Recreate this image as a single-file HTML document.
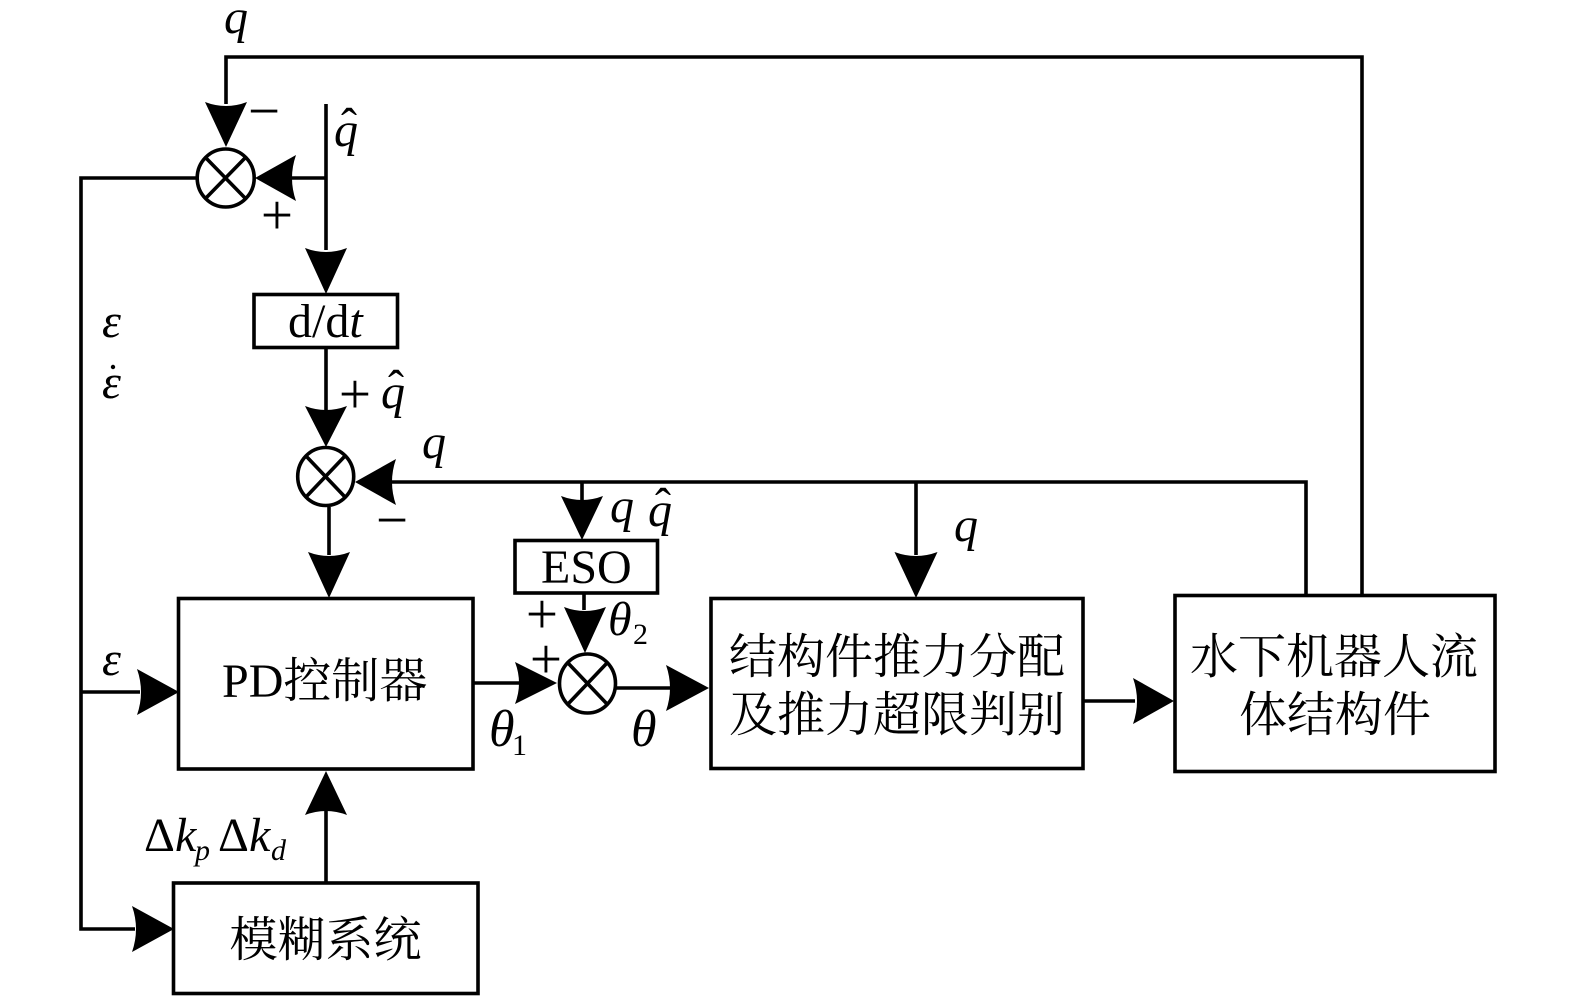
<!DOCTYPE html>
<html><head><meta charset="utf-8">
<style>
html,body{margin:0;padding:0;background:#fff;width:1575px;height:1005px;overflow:hidden}
svg{display:block}
.l{fill:none;stroke:#000;stroke-width:3.6}
.b{fill:#fff;stroke:#000;stroke-width:3.6}
.t{font-family:"Liberation Serif","Noto Serif CJK SC",serif;font-size:48px;fill:#000}
.i{font-family:"Liberation Serif",serif;font-style:italic;font-size:48px;fill:#000}
.th{font-family:"Liberation Serif",serif;font-style:italic;font-size:52px;fill:#000}
.s{font-family:"Liberation Serif",serif;font-style:italic;font-size:30px;fill:#000}
.r{font-family:"Liberation Serif",serif;font-size:48px;fill:#000}
.p{font-family:"Liberation Serif",serif;font-size:57px;fill:#000;text-anchor:middle}
</style></head><body>
<svg width="1575" height="1005" viewBox="0 0 1575 1005" xmlns="http://www.w3.org/2000/svg">
<rect width="1575" height="1005" fill="#fff"/>
<g class="l">
<path d="M226 104V57H1362V595"/>
<path d="M326 104V250M326 178H290"/>
<path d="M197 178H81V929H135M81 692H140"/>
<path d="M326 348V410M329 507V555"/>
<path d="M1306 595V482H390"/>
<path d="M582 482V500M916 482V555M584 593V610"/>
<path d="M473 683H520M616 688H670M1082 701H1135M326 883V810"/>
</g>
<rect class="b" x="254" y="294.500" width="143.500" height="53"/>
<rect class="b" x="515" y="540.500" width="142.500" height="52.500"/>
<rect class="b" x="178.500" y="598.500" width="294.500" height="170.500"/>
<rect class="b" x="173.500" y="883" width="304.500" height="110.500"/>
<rect class="b" x="711" y="598.500" width="372" height="170"/>
<rect class="b" x="1175" y="595.500" width="320" height="176"/>
<g class="b">
<ellipse cx="225.700" cy="178" rx="28.500" ry="29"/>
<ellipse cx="325.700" cy="476.500" rx="28" ry="29"/>
<ellipse cx="587.500" cy="683.500" rx="28" ry="29.500"/>
</g>
<g class="l">
<path d="M206 158L245 198M245 158L206 198"/>
<path d="M306 456L345 497M345 456L306 497"/>
<path d="M568 663L607 704M607 663L568 704"/>
</g>
<g fill="#000">
<path d="M0 0L-45 -21Q-37 0 -45 21Z" transform="translate(226,147) rotate(90)"/>
<path d="M0 0L-41 -23Q-33 0 -41 23Z" transform="translate(255,178) rotate(180)"/>
<path d="M0 0L-46 -21Q-38 0 -46 21Z" transform="translate(326,294) rotate(90)"/>
<path d="M0 0L-41 -21Q-33 0 -41 21Z" transform="translate(326,447) rotate(90)"/>
<path d="M0 0L-46 -21Q-38 0 -46 21Z" transform="translate(329,598) rotate(90)"/>
<path d="M0 0L-41 -23Q-33 0 -41 23Z" transform="translate(355,482) rotate(180)"/>
<path d="M0 0L-44 -21Q-36 0 -44 21Z" transform="translate(582,540) rotate(90)"/>
<path d="M0 0L-46 -21Q-38 0 -46 21Z" transform="translate(585,653) rotate(90)"/>
<path d="M0 0L-46 -21.500Q-38 0 -46 21.500Z" transform="translate(916,598) rotate(90)"/>
<path d="M0 0L-42 -21Q-34 0 -42 21Z" transform="translate(557,683)"/>
<path d="M0 0L-43 -23Q-35 0 -43 23Z" transform="translate(709,688)"/>
<path d="M0 0L-41 -23Q-33 0 -41 23Z" transform="translate(1174,701)"/>
<path d="M0 0L-42 -23Q-34 0 -42 23Z" transform="translate(179,692)"/>
<path d="M0 0L-42 -23Q-34 0 -42 23Z" transform="translate(174,929)"/>
<path d="M0 0L-44 -21Q-36 0 -44 21Z" transform="translate(326,771) rotate(-90)"/>
<circle cx="113" cy="367" r="2.200"/>
</g>
<text class="t" x="222" y="697">PD控制器</text>
<text class="t" x="229.500" y="956">模糊系统</text>
<text class="t" x="729" y="673">结构件推力分配</text>
<text class="t" x="729" y="731">及推力超限判别</text>
<text class="t" x="1190" y="673">水下机器人流</text>
<text class="t" x="1239" y="731">体结构件</text>
<text class="r" x="288" y="337">d/d<tspan font-style="italic">t</tspan></text>
<text class="r" x="541" y="583">ESO</text>
<text class="i" x="224" y="33">q</text>
<text class="i" x="334" y="146">q</text><text class="r" x="341" y="141">ˆ</text>
<text class="i" x="381" y="408">q</text><text class="r" x="388" y="403">ˆ</text>
<text class="i" x="422" y="458">q</text>
<text class="i" x="610" y="522">q</text>
<text class="i" x="648" y="526">q</text><text class="r" x="655" y="521">ˆ</text>
<text class="i" x="954" y="541">q</text>
<text class="p" x="277" y="234">+</text>
<text class="p" x="264" y="130">−</text>
<text class="p" x="355" y="413">+</text>
<text class="p" x="392" y="539">−</text>
<text class="p" x="542" y="633">+</text>
<text class="p" x="546" y="678">+</text>
<text class="i" x="608" y="635">θ</text><text class="r" x="633" y="644" style="font-size:30px">2</text>
<text class="th" x="489" y="746">θ</text><text class="r" x="512" y="755" style="font-size:30px">1</text>
<text class="th" x="631" y="746">θ</text>
<text class="i" x="102" y="337">ε</text>
<text class="i" x="102" y="398">ε</text>
<text class="i" x="102" y="675">ε</text>
<text class="r" x="144" y="851">Δ</text><text class="i" x="175" y="851">k</text><text class="s" x="195" y="860">p</text>
<text class="r" x="218" y="851">Δ</text><text class="i" x="249" y="851">k</text><text class="s" x="271" y="860">d</text>
</svg>
</body></html>
